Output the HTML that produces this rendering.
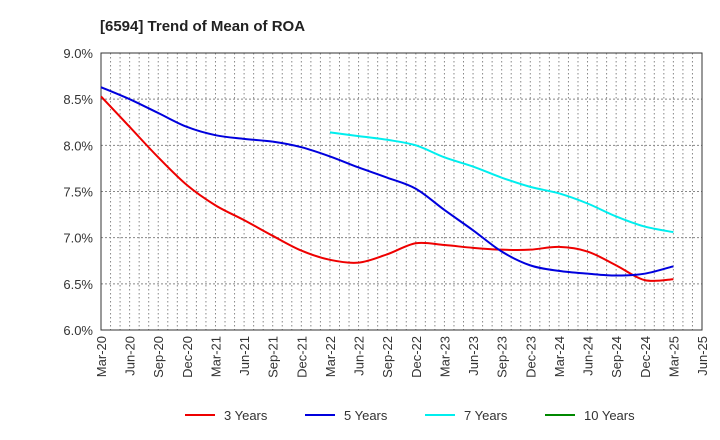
<!DOCTYPE html>
<html><head><meta charset="utf-8"><style>
body{margin:0;background:#fff;}
svg{display:block;font-family:"Liberation Sans",sans-serif;}
</style></head><body>
<svg id="chart" width="720" height="440" xmlns="http://www.w3.org/2000/svg">
<text x="100" y="31" font-size="15" font-weight="bold" fill="#222">[6594]  Trend of Mean of ROA</text>
<g id="grid"></g><g id="axes"></g><g id="series"></g><g id="legend"></g>
</svg>
<script>
const categories=["Mar-20","Jun-20","Sep-20","Dec-20","Mar-21","Jun-21","Sep-21","Dec-21","Mar-22","Jun-22","Sep-22","Dec-22","Mar-23","Jun-23","Sep-23","Dec-23","Mar-24","Jun-24","Sep-24","Dec-24","Mar-25","Jun-25"];
const yTicks=[6.0,6.5,7.0,7.5,8.0,8.5,9.0];
const s3=[8.53,8.2,7.87,7.57,7.35,7.19,7.02,6.86,6.76,6.73,6.82,6.94,6.92,6.89,6.87,6.87,6.9,6.85,6.7,6.54,6.55];
const s5=[8.63,8.5,8.35,8.2,8.11,8.07,8.04,7.98,7.88,7.76,7.65,7.53,7.3,7.08,6.85,6.7,6.64,6.61,6.59,6.61,6.69];
const s7=[null,null,null,null,null,null,null,null,8.14,8.1,8.06,8.0,7.87,7.77,7.65,7.55,7.48,7.37,7.23,7.12,7.06];
const s10=[];
const names=["3 Years","5 Years","7 Years","10 Years"];
const colors=["#ee0000","#0000dd","#00eeee","#008800"];
const NS="http://www.w3.org/2000/svg";
const L=101,R=702,T=53,B=330;
const x=i=>L+(R-L)*i/(categories.length-1);
const y=v=>B-(v-6)/(9-6)*(B-T);
function mk(tag,attrs,parent){const e=document.createElementNS(NS,tag);for(const k in attrs)e.setAttribute(k,attrs[k]);parent.appendChild(e);return e;}
const grid=document.getElementById('grid'),axes=document.getElementById('axes'),ser=document.getElementById('series'),leg=document.getElementById('legend');
const months=(categories.length-1)*3;
for(let m=1;m<months;m++){const xx=L+(R-L)*m/months;
const g=mk('line',{x1:xx,x2:xx,y1:T,y2:B,stroke:'#888','stroke-width':1,'stroke-dasharray':'1.5,2.5'},grid);

}
yTicks.forEach(v=>{if(v>6&&v<9){const g=mk('line',{x1:L,x2:R,y1:y(v),y2:y(v),stroke:'#888','stroke-width':1,'stroke-dasharray':'2,2'},grid);

}
const t=mk('text',{x:L-8,y:y(v)+5,'text-anchor':'end','font-size':13,fill:'#333'},axes);t.textContent=v.toFixed(1)+'%';

});
const frame=mk('rect',{x:L,y:T,width:R-L,height:B-T,fill:'none',stroke:'#333','stroke-width':1},axes);


categories.forEach((c,i)=>{const t=mk('text',{transform:`translate(${x(i)+5},${B+6}) rotate(-90)`,'text-anchor':'end','font-size':13,fill:'#333'},axes);t.textContent=c;

});
function pathFor(arr){const pts=[];arr.forEach((v,i)=>{if(v!=null)pts.push([x(i),y(v)]);});if(pts.length<2)return '';
let d=`M${pts[0][0]},${pts[0][1]}`;
for(let i=0;i<pts.length-1;i++){const p0=pts[i-1]||pts[i],p1=pts[i],p2=pts[i+1],p3=pts[i+2]||p2;
const c1=[p1[0]+(p2[0]-p0[0])/6,p1[1]+(p2[1]-p0[1])/6],c2=[p2[0]-(p3[0]-p1[0])/6,p2[1]-(p3[1]-p1[1])/6];
d+=` C${c1[0]},${c1[1]} ${c2[0]},${c2[1]} ${p2[0]},${p2[1]}`;}return d;}
[s3,s5,s7,s10].forEach((s,k)=>{const d=pathFor(s);if(!d)return;const p=mk('path',{d:d,fill:'none',stroke:colors[k],'stroke-width':2},ser);

});
const lx=[185,305,425,545];
names.forEach((n,k)=>{const g=mk('g',{},leg);


mk('line',{x1:lx[k],x2:lx[k]+30,y1:415,y2:415,stroke:colors[k],'stroke-width':2},g);
const t=mk('text',{x:lx[k]+39,y:420,'font-size':13,fill:'#333'},g);t.textContent=n;});
</script>
</body></html>
